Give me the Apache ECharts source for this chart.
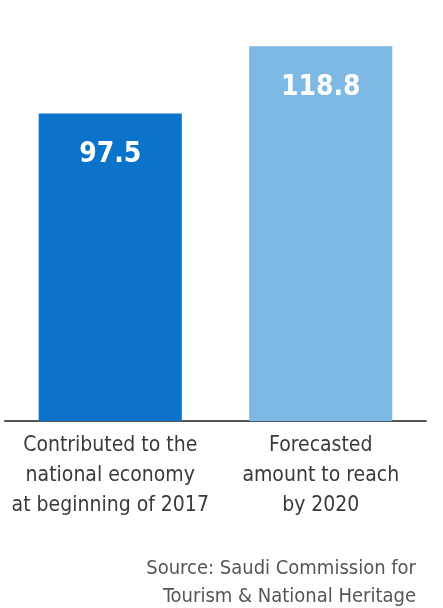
<!DOCTYPE html>
<html>
<head>
<meta charset="utf-8">
<script src="https://cdn.jsdelivr.net/npm/echarts@6/dist/echarts.min.js"></script>
<style>
  html, body { margin: 0; padding: 0; background: #fff; }
  #chart { width: 443px; height: 608px; }
</style>
</head>
<body>
<div id="chart"></div>
<script>
const categories = [
  "Contributed to the\nnational economy\nat beginning of 2017",
  "Forecasted\namount to reach\nby 2020"
];
const values = [97.5, 118.8];
const sourceLines = ["Source: Saudi Commission for", "Tourism & National Heritage"];

const barColors = ["#0b73c9", "#7db9e3"];
const narrow = "'Liberation Sans Narrow', 'DejaVu Sans Condensed', sans-serif";

var chart = echarts.init(document.getElementById("chart"));

var option = {
  animation: false,
  // source note, one title per line so both stay right aligned
  title: sourceLines.map(function (t, i) {
    return {
      text: t,
      right: 27,
      top: 559 + i * 28,
      padding: 0,
      textStyle: {
        fontFamily: narrow,
        fontWeight: "normal",
        fontSize: 20,
        color: "#555"
      }
    };
  }),
  grid: {
    left: 5,
    right: 17,
    top: 11,
    bottom: 187
  },
  xAxis: {
    type: "category",
    data: categories,
    axisLine: {
      show: true,
      lineStyle: { color: "#555", width: 2 }
    },
    axisTick: { show: false },
    axisLabel: {
      margin: 10,
      fontFamily: narrow,
      fontSize: 21,
      lineHeight: 30,
      color: "#3a3a3a",
      interval: 0
    }
  },
  yAxis: {
    type: "value",
    min: 0,
    max: 130,
    show: false,
    splitLine: { show: false }
  },
  series: [
    {
      type: "bar",
      barWidth: "68%",
      data: values.map(function (v, i) {
        return { value: v, itemStyle: { color: barColors[i] } };
      }),
      label: {
        show: true,
        position: "insideTop",
        distance: 27,
        color: "#fff",
        fontFamily: narrow,
        fontWeight: "bold",
        fontSize: 28
      }
    }
  ]
};

chart.setOption(option);
</script>
</body>
</html>
